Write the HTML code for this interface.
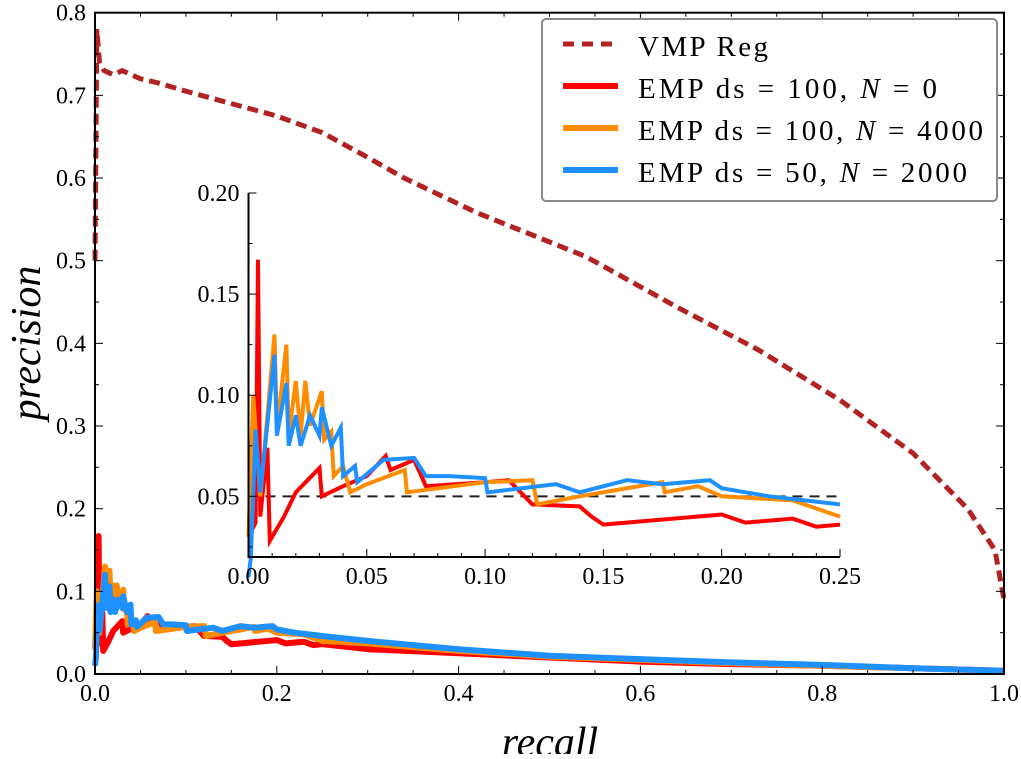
<!DOCTYPE html>
<html><head><meta charset="utf-8"><style>
body{margin:0;background:#fff;width:1021px;height:754px;overflow:hidden}
svg text{font-family:"Liberation Serif",serif;fill:#000}
</style></head><body>
<svg id="chart" width="1021" height="754" viewBox="0 0 1021 754" xmlns="http://www.w3.org/2000/svg">
<g id="main"></g>
<g id="inset"></g>
<g id="legend"></g>
</svg>
<script>
// Main VMP curve
const vmpRecall=[0,0.002,0.005,0.01,0.02,0.03,0.05,0.07,0.1,0.15,0.2,0.25,0.3,0.34,0.42,0.54,0.64,0.73,0.82,0.9,0.96,0.99,1.0];
const vmpPrecision=[0.5,0.78,0.74,0.73,0.725,0.73,0.72,0.715,0.705,0.69,0.675,0.655,0.625,0.6,0.558,0.505,0.444,0.392,0.331,0.267,0.2,0.15,0.09];
// EMP series (head detail)
const redRecall=[0,0.003,0.004,0.005,0.008,0.009,0.015,0.02,0.025,0.03,0.031,0.04,0.05,0.058,0.06,0.07,0.075,0.1,0.11,0.12,0.14,0.145,0.15,0.2,0.21,0.23,0.24,0.25];
const redPrecision=[0.03,0.037,0.167,0.04,0.074,0.028,0.04,0.052,0.058,0.064,0.05,0.055,0.06,0.07,0.063,0.068,0.055,0.057,0.058,0.046,0.045,0.04,0.036,0.041,0.037,0.039,0.035,0.036];
const orangeRecall=[0,0.002,0.005,0.011,0.012,0.016,0.017,0.02,0.022,0.024,0.026,0.031,0.032,0.035,0.036,0.04,0.043,0.05,0.066,0.067,0.1,0.12,0.122,0.14,0.175,0.176,0.19,0.2,0.23,0.25];
const orangePrecision=[0.03,0.1,0.05,0.13,0.083,0.125,0.08,0.107,0.08,0.107,0.085,0.102,0.078,0.082,0.06,0.065,0.052,0.056,0.063,0.052,0.057,0.058,0.046,0.05,0.057,0.052,0.055,0.05,0.048,0.04];
const blueRecall=[0,0.001,0.003,0.005,0.011,0.012,0.016,0.017,0.02,0.022,0.026,0.03,0.031,0.035,0.039,0.04,0.045,0.046,0.057,0.07,0.075,0.085,0.1,0.101,0.13,0.14,0.16,0.175,0.195,0.2,0.22,0.25];
const bluePrecision=[0.01,0.02,0.083,0.052,0.12,0.08,0.106,0.075,0.09,0.075,0.09,0.08,0.094,0.075,0.084,0.06,0.065,0.057,0.068,0.069,0.06,0.06,0.059,0.052,0.056,0.052,0.058,0.056,0.058,0.054,0.05,0.046];
// tails (main plot only)
const tailRecall=[0.3,0.4,0.5,0.6,0.7,0.8,0.9,1.0];
const redTail=[0.03,0.025,0.02,0.015,0.012,0.01,0.007,0.004];
const orangeTail=[0.037,0.028,0.021,0.017,0.013,0.01,0.007,0.004];
const blueTail=[0.04,0.03,0.022,0.018,0.014,0.011,0.007,0.004];
const mainXTicks=[0,0.2,0.4,0.6,0.8,1.0];
const mainXTickLabels=["0.0","0.2","0.4","0.6","0.8","1.0"];
const mainYTicks=[0,0.1,0.2,0.3,0.4,0.5,0.6,0.7,0.8];
const mainYTickLabels=["0.0","0.1","0.2","0.3","0.4","0.5","0.6","0.7","0.8"];
const insetXTicks=[0,0.05,0.1,0.15,0.2,0.25];
const insetXTickLabels=["0.00","0.05","0.10","0.15","0.20","0.25"];
const insetYTicks=[0.05,0.1,0.15,0.2];
const insetYTickLabels=["0.05","0.10","0.15","0.20"];
const baseline=[0.05];
const legendLabels=["VMP Reg","EMP ds = 100,  N = 0","EMP ds = 100,  N = 4000","EMP ds = 50,  N = 2000"];

const NS="http://www.w3.org/2000/svg";
function mk(tag,attrs,parent){const e=document.createElementNS(NS,tag);for(const k in attrs)e.setAttribute(k,attrs[k]);parent.appendChild(e);return e;}
const M={l:95,r:1004,t:12.7,b:674};
const mx=v=>M.l+v*(M.r-M.l), my=v=>M.b-v/0.8*(M.b-M.t);
const I={l:248.5,r:840,t:193,b:557,y0:0.02,y1:0.2};
const ix=v=>I.l+v/0.25*(I.r-I.l), iy=v=>I.b-(v-I.y0)/(I.y1-I.y0)*(I.b-I.t);
const RED="#ff0000",ORANGE="#ff8c00",BLUE="#1e90ff",BROWN="#b22222";
const main=document.getElementById('main'),inset=document.getElementById('inset'),legend=document.getElementById('legend');
function pts(xs,ys,fx,fy){return xs.map((x,i)=>fx(x).toFixed(1)+","+fy(ys[i]).toFixed(1)).join(" ");}

let e;
e=mk('polyline',{points:pts(redRecall.concat(tailRecall),redPrecision.concat(redTail),mx,my),fill:'none',stroke:RED,'stroke-width':6,'stroke-linejoin':'round'},main);


e=mk('polyline',{points:pts(orangeRecall.concat(tailRecall),orangePrecision.concat(orangeTail),mx,my),fill:'none',stroke:ORANGE,'stroke-width':6,'stroke-linejoin':'round'},main);


e=mk('polyline',{points:pts(blueRecall.concat(tailRecall),bluePrecision.concat(blueTail),mx,my),fill:'none',stroke:BLUE,'stroke-width':6,'stroke-linejoin':'round'},main);


e=mk('polyline',{points:pts(vmpRecall,vmpPrecision,mx,my),fill:'none',stroke:BROWN,'stroke-width':5,'stroke-dasharray':'11 6'},main);



e=mk('rect',{x:M.l,y:M.t,width:M.r-M.l,height:M.b-M.t,fill:'none',stroke:'#000','stroke-width':2},main);


for(let v=0;v<=1.0001;v+=0.05){const major=Math.abs(v*5-Math.round(v*5))<1e-6;const L=major?8:4;
 mk('line',{x1:mx(v),x2:mx(v),y1:M.b,y2:M.b-L,stroke:'#000','stroke-width':1},main);
 mk('line',{x1:mx(v),x2:mx(v),y1:M.t,y2:M.t+L,stroke:'#000','stroke-width':1},main);}
for(let v=0;v<=0.8001;v+=0.05){const major=Math.abs(v*10-Math.round(v*10))<1e-6;const L=major?8:4;
 mk('line',{x1:M.l,x2:M.l+L,y1:my(v),y2:my(v),stroke:'#000','stroke-width':1},main);
 mk('line',{x1:M.r,x2:M.r-L,y1:my(v),y2:my(v),stroke:'#000','stroke-width':1},main);}
mainXTicks.forEach((v,i)=>{const t=mk('text',{x:mx(v),y:M.b+27,'text-anchor':'middle','font-size':24},main);t.textContent=mainXTickLabels[i];

});
mainYTicks.forEach((v,i)=>{const t=mk('text',{x:M.l-9,y:my(v)+8,'text-anchor':'end','font-size':24},main);t.textContent=mainYTickLabels[i];

});
e=mk('text',{x:550,y:756,'text-anchor':'middle','font-size':42,'font-style':'italic'},main);e.textContent='recall';


e=mk('text',{x:0,y:0,'text-anchor':'middle','font-size':42,'font-style':'italic',transform:'translate(40,343) rotate(-90)'},main);e.textContent='precision';



e=mk('line',{x1:ix(0),x2:ix(0.25),y1:iy(baseline[0]),y2:iy(baseline[0]),stroke:'#222','stroke-width':2,'stroke-dasharray':'10 7'},inset);


e=mk('polyline',{points:pts(redRecall,redPrecision,ix,iy),fill:'none',stroke:RED,'stroke-width':4},inset);


e=mk('polyline',{points:pts(orangeRecall,orangePrecision,ix,iy),fill:'none',stroke:ORANGE,'stroke-width':4},inset);


e=mk('polyline',{points:pts(blueRecall,bluePrecision,ix,iy),fill:'none',stroke:BLUE,'stroke-width':4},inset);


e=mk('path',{d:`M${I.l},${I.t} V${I.b} H${I.r}`,fill:'none',stroke:'#000','stroke-width':2},inset);


for(let k=0;k<=25;k++){const v=k*0.01;const L=(k%5===0)?8:4;mk('line',{x1:ix(v),x2:ix(v),y1:I.b,y2:I.b-L,stroke:'#000','stroke-width':1},inset);}
for(let k=1;k<=8;k++){const v=k*0.025;const L=(k%2===0)?8:4;mk('line',{x1:I.l,x2:I.l+L,y1:iy(v),y2:iy(v),stroke:'#000','stroke-width':1},inset);}
insetXTicks.forEach((v,i)=>{const t=mk('text',{x:ix(v),y:I.b+27,'text-anchor':'middle','font-size':24},inset);t.textContent=insetXTickLabels[i];

});
insetYTicks.forEach((v,i)=>{const t=mk('text',{x:I.l-9,y:iy(v)+8,'text-anchor':'end','font-size':24},inset);t.textContent=insetYTickLabels[i];

});

e=mk('rect',{x:542,y:19,width:455,height:182,rx:4,fill:'#fff',stroke:'#888','stroke-width':2},legend);


const cols=[BROWN,RED,ORANGE,BLUE];
const widths=[130,299,345,329];
legendLabels.forEach((lab,i)=>{const y=46+i*42;
 const l=mk('line',{x1:563,x2:618,y1:y-2,y2:y-2,stroke:cols[i],'stroke-width':i===0?5:6,'stroke-dasharray':i===0?'11 8':'none'},legend);
 
 
 const t=mk('text',{x:638,y:y+10,'font-size':29,textLength:widths[i],lengthAdjust:'spacing'},legend);
 if(i===0){t.textContent=lab;}else{
  const parts=lab.split('N');
  const a=document.createElementNS(NS,'tspan');a.textContent=parts[0];t.appendChild(a);
  const b=document.createElementNS(NS,'tspan');b.setAttribute('font-style','italic');b.textContent='N';t.appendChild(b);
  const c=document.createElementNS(NS,'tspan');c.textContent=parts[1];t.appendChild(c);}
 t.setAttribute('xml:space','preserve');
 
 
});
</script>
</body></html>
